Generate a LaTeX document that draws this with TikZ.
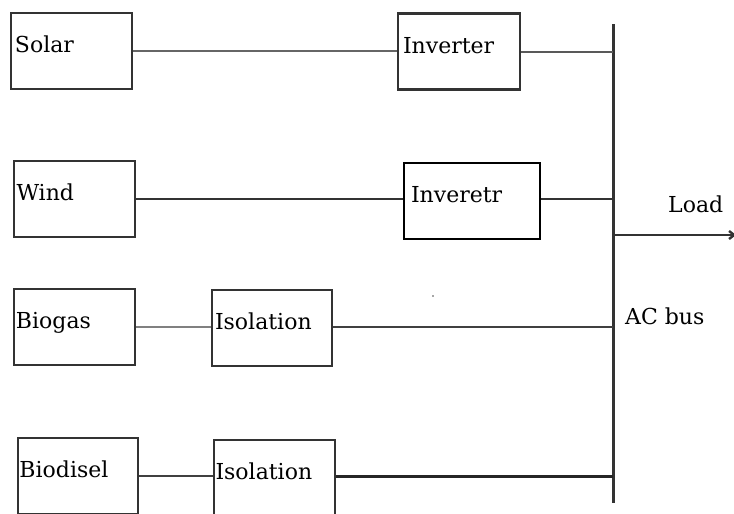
\documentclass[tikz,border=0pt]{standalone}
\usepackage{fontspec}
\setmainfont{DejaVu Serif}
\usetikzlibrary{arrows.meta}
\begin{document}
\begin{tikzpicture}[x=1pt,y=-1pt,
  box/.style={draw=black!80,line width=2.4pt,minimum height=76pt,inner sep=0pt,
    font=\fontsize{22}{25}\selectfont,align=left,anchor=center,
    text height=0.75em,text depth=0.36em},
  wire/.style={draw=black!75,line width=2pt},
  lbl/.style={font=\fontsize{22}{25}\selectfont,inner sep=0pt,anchor=base west}]
\useasboundingbox (0,0) rectangle (734,514);
% boxes
\node[box,minimum width=121pt,text width=113pt] (solar) at (71.5,51) {Solar};
\node[box,minimum width=122pt,text width=112pt] (inv1) at (459,51.5) {Inverter};
\node[box,minimum width=121pt,text width=116pt] (wind) at (74.5,199) {Wind};
\node[box,minimum width=136pt,text width=122pt,draw=black,line width=1.5pt] (inv2) at (472,201) {Inveretr};
\node[box,minimum width=121pt,text width=117pt] (biogas) at (74.5,327) {Biogas};
\node[box,minimum width=120pt,text width=114pt] (iso1) at (272,328) {Isolation};
\node[box,minimum width=120pt,text width=117pt] (biodisel) at (78,476) {Biodisel};
\node[box,minimum width=121pt,text width=118pt] (iso2) at (274.5,478) {Isolation};
% bus
\coordinate (bustop) at (613,24);
\coordinate (busbot) at (613,503);
\draw[black!80,line width=3pt] (bustop) -- (busbot);
% connectors
\draw[wire,black!60] (solar.east) -- (solar.east -| inv1.west);
\draw[wire,black!65] (inv1.east) -- (inv1.east -| bustop);
\draw[wire,black!80,line width=2.6pt] (wind.east) -- (wind.east -| inv2.west);
\draw[wire,black!80,line width=2.6pt] (inv2.east |- wind.east) -- (wind.east -| bustop);
\draw[wire,black!50] (biogas.east) -- (biogas.east -| iso1.west);
\draw[wire,black!75] (iso1.east |- biogas.east) -- (biogas.east -| bustop);
\draw[wire,black!75] (biodisel.east) -- (biodisel.east -| iso2.west);
\draw[wire,black!85,line width=3pt] (iso2.east |- biodisel.east) -- (biodisel.east -| bustop);
% load
\coordinate (loadend) at (736,235);
\draw[wire,black!80,line width=2.4pt,-{Straight Barb[length=5pt,width=8pt]}] (bustop |- loadend) -- (loadend);
\node[lbl] (loadlbl) at (668,212) {Load};
\node[lbl] (aclbl) at (625,324) {AC bus};
\fill[black!70] (433,296) circle (0.9);
\end{tikzpicture}
\end{document}
